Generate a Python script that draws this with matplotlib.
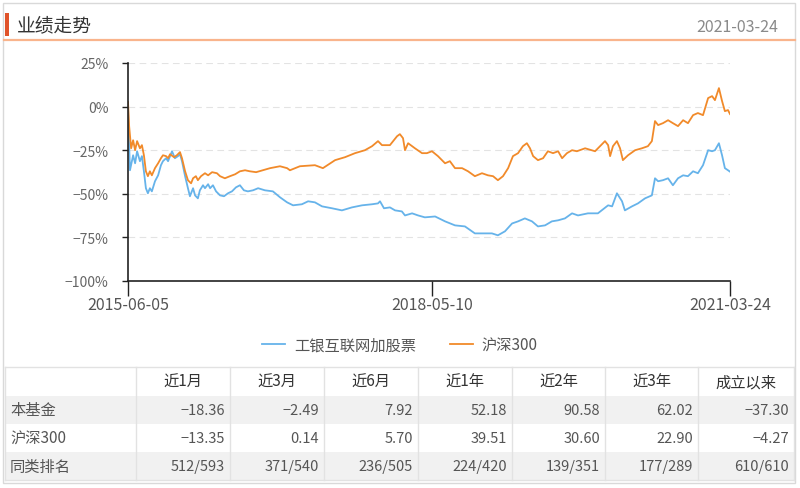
import matplotlib
matplotlib.use('Agg')
import matplotlib.pyplot as plt
from matplotlib.patches import Rectangle
from matplotlib.lines import Line2D
import pandas as pd

plt.rcParams['font.family'] = ['Noto Sans CJK SC', 'DejaVu Sans']

# Data
title = '业绩走势'
report_date = '2021-03-24'
start_date = '2015-06-05'
tick_dates = ['2015-06-05', '2018-05-10', '2021-03-24']
fund_name = '工银互联网加股票'
index_name = '沪深300'

# cumulative return (%), x = days since start_date
fund_days = [0, 4, 7, 18, 25, 32, 42, 49, 56, 63, 70, 77, 84, 95, 106, 116, 123, 134, 141, 148,
             155, 165, 176, 183, 190, 201, 211, 218, 229, 236, 246, 253, 264, 271, 282, 289, 299,
             310, 324, 338, 352, 366, 380, 394, 408, 422, 440, 458, 482, 510, 535, 560, 581, 612,
             634, 658, 683, 718, 753, 788, 824, 859, 880, 887, 901, 922, 940, 964, 975, 1000, 1021,
             1045, 1081, 1116, 1151, 1186, 1221, 1257, 1281, 1302, 1327, 1352, 1373, 1397, 1422,
             1443, 1468, 1492, 1514, 1538, 1563, 1584, 1619, 1654, 1690, 1704, 1721, 1739, 1749,
             1774, 1795, 1820, 1844, 1855, 1866, 1883, 1901, 1918, 1936, 1954, 1971, 1989, 2006,
             2024, 2042, 2056, 2066, 2080, 2091, 2101, 2112, 2119]
fund_ret = [0.0, -22.0, -36.5, -27.9, -32.5, -25.6, -31.3, -28.4, -37.1, -46.8, -49.7, -46.8, -48.6,
            -42.8, -39.4, -33.6, -31.3, -29.6, -31.3, -28.4, -25.6, -29.6, -28.4, -27.3, -31.3,
            -39.9, -46.8, -51.4, -46.8, -50.9, -52.6, -48.0, -45.1, -46.8, -44.5, -46.8, -45.1,
            -48.6, -50.9, -51.4, -49.7, -48.6, -46.3, -45.1, -48.0, -48.6, -48.0, -46.8, -48.0,
            -48.6, -52.0, -54.9, -56.6, -56.0, -54.3, -54.9, -57.2, -58.3, -59.5, -57.8, -56.6,
            -56.0, -55.5, -54.3, -58.3, -57.8, -59.5, -60.1, -62.4, -61.2, -62.4, -63.5, -63.0,
            -65.8, -68.1, -68.7, -72.7, -72.7, -72.7, -73.8, -71.5, -67.0, -65.8, -64.1, -65.8,
            -68.7, -68.1, -65.8, -65.2, -64.1, -61.2, -62.4, -61.2, -61.2, -56.6, -57.2, -49.7,
            -54.3, -59.5, -57.2, -55.5, -52.6, -50.9, -41.1, -42.8, -42.2, -41.1, -45.1, -41.1,
            -39.4, -39.9, -37.1, -38.2, -33.6, -25.0, -25.6, -25.0, -21.0, -27.9, -35.3, -36.5,
            -37.3]

index_days = [0, 4, 11, 18, 25, 32, 42, 49, 56, 63, 70, 77, 84, 95, 106, 116, 123, 134, 141, 148,
              162, 172, 183, 190, 201, 211, 222, 229, 239, 246, 257, 271, 282, 296, 313, 324, 341,
              359, 377, 394, 412, 429, 451, 475, 500, 535, 560, 570, 605, 658, 686, 729, 764, 799,
              834, 859, 880, 894, 922, 947, 957, 968, 975, 986, 1010, 1035, 1052, 1070, 1091, 1116,
              1133, 1151, 1176, 1197, 1221, 1246, 1267, 1285, 1302, 1320, 1338, 1355, 1373, 1390,
              1404, 1415, 1426, 1443, 1461, 1478, 1496, 1514, 1528, 1545, 1563, 1580, 1609, 1644,
              1679, 1690, 1697, 1707, 1721, 1732, 1742, 1760, 1785, 1809, 1830, 1844, 1855, 1866,
              1883, 1901, 1918, 1936, 1954, 1971, 1989, 2006, 2024, 2042, 2056, 2066, 2080, 2091,
              2101, 2112, 2119]
index_ret = [2.6, -11.2, -23.9, -19.3, -25.0, -19.8, -23.9, -22.1, -27.9, -37.1, -39.9, -37.1, -39.4,
             -35.3, -32.5, -29.6, -27.9, -28.4, -29.6, -27.3, -29.0, -27.9, -26.1, -29.6, -37.1,
             -42.2, -44.0, -41.1, -39.9, -42.2, -39.9, -38.2, -39.4, -37.6, -38.2, -39.9, -41.1,
             -39.9, -38.8, -37.1, -36.5, -37.1, -37.6, -36.5, -35.3, -34.2, -35.3, -36.5, -34.2,
             -33.6, -35.3, -30.7, -29.0, -26.7, -25.0, -22.7, -19.8, -22.1, -22.1, -17.0, -15.8,
             -18.1, -25.0, -21.0, -23.9, -26.7, -26.7, -25.6, -28.4, -32.5, -31.3, -35.3, -35.3,
             -37.1, -39.9, -38.2, -39.4, -39.9, -42.2, -39.9, -35.3, -28.4, -26.7, -22.7, -21.0,
             -23.9, -28.4, -30.7, -29.6, -25.6, -26.7, -25.6, -29.6, -26.7, -25.0, -25.6, -23.9,
             -25.6, -19.8, -22.1, -28.4, -22.7, -19.8, -23.9, -30.7, -27.9, -25.0, -23.9, -22.7,
             -19.8, -8.3, -10.6, -9.5, -7.8, -9.5, -11.2, -7.8, -9.5, -4.9, -3.7, -4.9, 4.9, 6.0,
             3.7, 10.6, 3.2, -2.6, -2.0, -4.27]

periods = ['近1月', '近3月', '近6月', '近1年', '近2年', '近3年', '成立以来']
row_labels = ['本基金', '沪深300', '同类排名']
fund_perf = [-18.36, -2.49, 7.92, 52.18, 90.58, 62.02, -37.30]
index_perf = [-13.35, 0.14, 5.70, 39.51, 30.60, 22.90, -4.27]
ranks = ['512/593', '371/540', '236/505', '224/420', '139/351', '177/289', '610/610']

W, H = 800, 489
blue = '#66b3ea'
orange = '#f18a2a'


def fx(x):
    return x / W


def fy(y):
    return 1 - y / H


fig = plt.figure(figsize=(W / 100, H / 100), dpi=100)

# outer frame and header
fig.patches.append(Rectangle((fx(3), fy(484)), fx(792), 480 / H, transform=fig.transFigure,
                             fill=False, edgecolor='#d9d9d9', lw=1))
fig.patches.append(Rectangle((fx(5), fy(37)), fx(4), 23 / H, transform=fig.transFigure,
                             facecolor='#e0532a', edgecolor='none'))
fig.add_artist(Line2D([fx(4), fx(795)], [fy(41), fy(41)], color='#f9b48c', lw=1.6))
fig.text(fx(17), fy(26), title, fontsize=13.5, color='#333333', va='center', ha='left')
fig.text(fx(778), fy(28), report_date, fontsize=11.5, color='#8a8a8a', va='center', ha='right')

# chart
ax = fig.add_axes([fx(128), fy(282), fx(730 - 128), (282 - 64) / H])
t0 = pd.Timestamp(start_date)
fund_x = [t0 + pd.Timedelta(days=d) for d in fund_days]
index_x = [t0 + pd.Timedelta(days=d) for d in index_days]
ax.plot(fund_x, fund_ret, color=blue, lw=1.3, label=fund_name)
ax.plot(index_x, index_ret, color=orange, lw=1.3, label=index_name)

ax.set_ylim(-100, 25)
ax.set_xlim(pd.Timestamp(tick_dates[0]), pd.Timestamp(tick_dates[-1]))
yt = [25, 0, -25, -50, -75, -100]
ax.set_yticks(yt)
ax.set_yticklabels([f'{v}%'.replace('-', '−') for v in yt], fontsize=10, color='#666666')
ax.set_xticks([pd.Timestamp(d) for d in tick_dates])
ax.set_xticklabels(tick_dates, fontsize=11.5, color='#555555')
ax.tick_params(axis='y', length=4, width=1, color='#222222', pad=10)
ax.tick_params(axis='x', length=11, width=1, color='#222222', pad=0)
for v in yt[:-1]:
    ax.axhline(v, color='#e3e3e3', lw=0.8, ls=(0, (6, 4)), zorder=0)
for s in ['top', 'right']:
    ax.spines[s].set_visible(False)
for s in ['left', 'bottom']:
    ax.spines[s].set_color('#222222')
    ax.spines[s].set_linewidth(1.2)

fig.legend(loc='center', bbox_to_anchor=(fx(400), fy(346)), ncol=2, frameon=False,
           fontsize=11, handlelength=1.5, handletextpad=0.6, columnspacing=2.2,
           labelcolor='#555555')

# table
col_x = [5, 136, 230, 324, 418, 512, 605, 698, 794]
row_y = [368, 397, 425, 453, 481]
for i in (1, 3):
    fig.patches.append(Rectangle((fx(col_x[0]), fy(row_y[i + 1])), fx(col_x[-1] - col_x[0]),
                                 (row_y[i + 1] - row_y[i]) / H, transform=fig.transFigure,
                                 facecolor='#f1f1f1', edgecolor='none'))
for x in col_x:
    fig.add_artist(Line2D([fx(x), fx(x)], [fy(row_y[0]), fy(row_y[-1])], color='#e2e2e2', lw=1))
for y in (row_y[0], row_y[-1]):
    fig.add_artist(Line2D([fx(col_x[0]), fx(col_x[-1])], [fy(y), fy(y)], color='#e2e2e2', lw=1))

for j, p in enumerate(periods):
    fig.text(fx((col_x[j + 1] + col_x[j + 2]) / 2), fy((row_y[0] + row_y[1]) / 2), p,
             fontsize=11, color='#333333', ha='center', va='center')

rows = [[f'{v:.2f}'.replace('-', '−') for v in fund_perf],
        [f'{v:.2f}'.replace('-', '−') for v in index_perf],
        ranks]
for i, (lab, vals) in enumerate(zip(row_labels, rows)):
    yc = fy((row_y[i + 1] + row_y[i + 2]) / 2)
    fig.text(fx(10), yc, lab, fontsize=11, color='#555555', ha='left', va='center')
    for j, v in enumerate(vals):
        fig.text(fx(col_x[j + 2] - 5), yc, v, fontsize=10.5, color='#555555',
                 ha='right', va='center')

fig.savefig('out.png', dpi=100)
